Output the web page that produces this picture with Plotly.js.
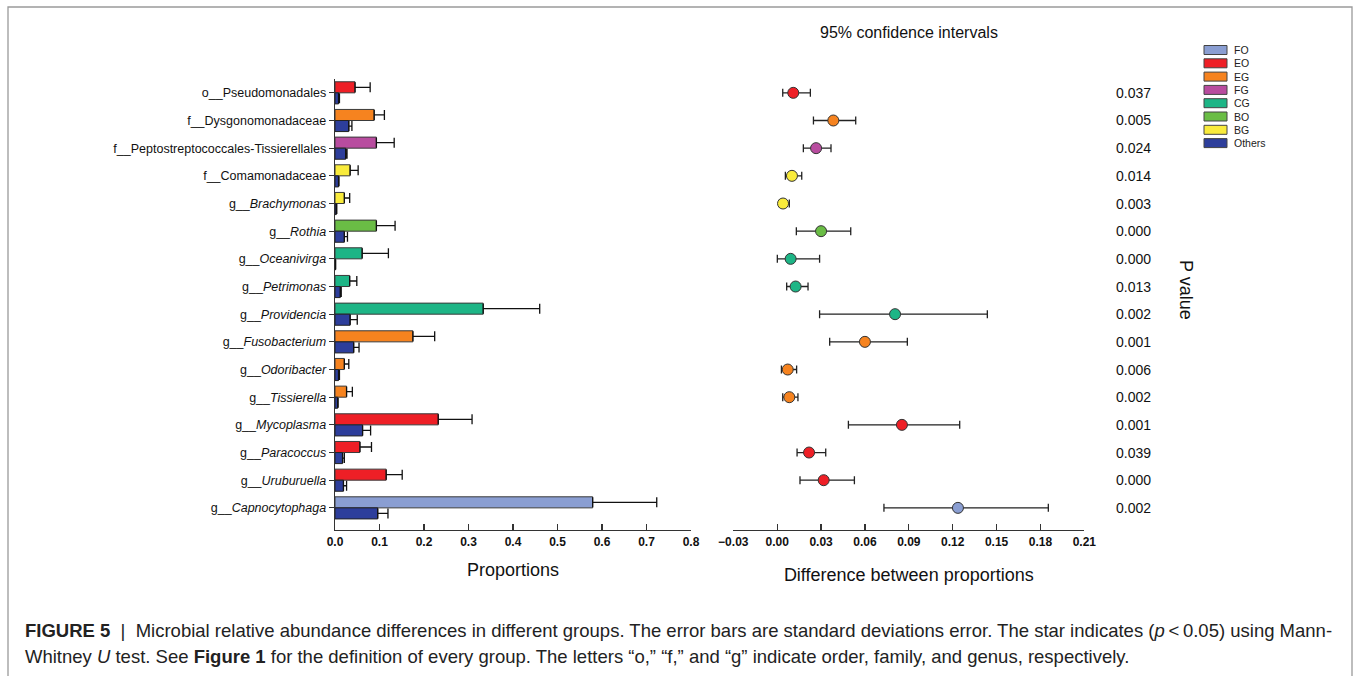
<!DOCTYPE html>
<html>
<head>
<meta charset="utf-8">
<script src="https://cdn.plot.ly/plotly-3.0.1.min.js"></script>
<style>html,body{margin:0;padding:0;background:#fff;}#chart{width:1356px;height:676px;}</style>
</head>
<body>
<div id="chart"></div>
<script>
// ---- data ----
var taxa = ["Pseudomonadales","Dysgonomonadaceae","Peptostreptococcales-Tissierellales","Comamonadaceae","Brachymonas","Rothia","Oceanivirga","Petrimonas","Providencia","Fusobacterium","Odoribacter","Tissierella","Mycoplasma","Paracoccus","Uruburuella","Capnocytophaga"];
var ranks = ["o","f","f","f","g","g","g","g","g","g","g","g","g","g","g","g"];
var groupOf = ["EO","EG","FG","BG","BG","BO","CG","CG","CG","EG","EG","EG","EO","EO","EO","FO"];
var groupMean = [0.045,0.088,0.093,0.034,0.021,0.093,0.061,0.033,0.333,0.175,0.021,0.026,0.232,0.056,0.115,0.579];
var groupSD   = [0.034,0.023,0.040,0.018,0.012,0.042,0.059,0.016,0.127,0.049,0.010,0.013,0.076,0.026,0.036,0.144];
var othersMean = [0.008,0.031,0.024,0.008,0.003,0.021,0.001,0.012,0.034,0.042,0.008,0.006,0.062,0.017,0.019,0.096];
var othersSD   = [0.002,0.007,0.003,0.001,0.001,0.007,0.0005,0.002,0.016,0.012,0.002,0.001,0.018,0.004,0.007,0.023];
var diffMean = [0.0110,0.0384,0.0266,0.0101,0.0040,0.0300,0.0092,0.0126,0.0806,0.0600,0.0072,0.0083,0.0853,0.0218,0.0318,0.1236];
var ciLow    = [0.0038,0.0248,0.0179,0.0056,0.0015,0.0131,0.0001,0.0065,0.0290,0.0359,0.0029,0.0038,0.0487,0.0136,0.0156,0.0730];
var ciHigh   = [0.0227,0.0537,0.0368,0.0168,0.0083,0.0503,0.0290,0.0211,0.1437,0.0890,0.0133,0.0142,0.1248,0.0332,0.0528,0.1854];
var pValues = ["0.037","0.005","0.024","0.014","0.003","0.000","0.000","0.013","0.002","0.001","0.006","0.002","0.001","0.039","0.000","0.002"];
var legendGroups = ["FO","EO","EG","FG","CG","BO","BG","Others"];
var groupColors = {FO:"#8A9ED2",EO:"#EE1F26",EG:"#F6831F",FG:"#B84C9F",CG:"#1DB586",BO:"#6ABD45",BG:"#F9EB3B",Others:"#2D3E9B"};
var leftTicks = [0,0.1,0.2,0.3,0.4,0.5,0.6,0.7,0.8];
var rightTicks = [-0.03,0,0.03,0.06,0.09,0.12,0.15,0.18,0.21];

// ---- build ----
var FONT = "Liberation Sans, Arial, Helvetica, sans-serif";
var cats = taxa.map(function(t,i){return ranks[i]+"__"+t;});
var tickText = taxa.map(function(t,i){return ranks[i]==="g" ? "g__<i>"+t+"</i>" : ranks[i]+"__"+t;});
var zeros = taxa.map(function(){return 0;});

var traces = [
  {type:"bar", orientation:"h", x:groupMean, y:cats, xaxis:"x", yaxis:"y", name:"group",
   marker:{color:groupOf.map(function(g){return groupColors[g];}), line:{color:"#3a3a3a", width:1}},
   error_x:{type:"data", symmetric:false, array:groupSD, arrayminus:zeros, color:"#111", thickness:1.3, width:5},
   showlegend:false, hoverinfo:"x+y"},
  {type:"bar", orientation:"h", x:othersMean, y:cats, xaxis:"x", yaxis:"y", name:"Others",
   marker:{color:groupColors.Others, line:{color:"#222", width:1}},
   error_x:{type:"data", symmetric:false, array:othersSD, arrayminus:zeros, color:"#111", thickness:1.3, width:5},
   showlegend:false, hoverinfo:"x+y"},
  {type:"scatter", mode:"markers", x:diffMean, y:cats, xaxis:"x2", yaxis:"y2",
   marker:{size:11, color:groupOf.map(function(g){return groupColors[g];}), line:{color:"#333", width:1}},
   error_x:{type:"data", symmetric:false,
            array:diffMean.map(function(d,i){return ciHigh[i]-d;}),
            arrayminus:diffMean.map(function(d,i){return d-ciLow[i];}),
            color:"#222", thickness:1.3, width:4},
   showlegend:false, hoverinfo:"x+y"}
];

var yDom = [1-530/676, 1-79/676];
var annotations = [];
var shapes = [];

// p values
pValues.forEach(function(p,i){
  annotations.push({xref:"paper", yref:"y2", x:1114/1356, y:cats[i], xanchor:"left", yanchor:"middle",
    text:p, showarrow:false, font:{family:FONT, size:14, color:"#111"}});
});
annotations.push({xref:"paper", yref:"paper", x:1186/1356, y:1-290/676, text:"P value", textangle:90,
  showarrow:false, xanchor:"center", yanchor:"middle", font:{family:FONT, size:18, color:"#111"}});
annotations.push({xref:"paper", yref:"paper", x:909/1356, y:1-33/676, text:"95% confidence intervals",
  showarrow:false, xanchor:"center", yanchor:"middle", font:{family:FONT, size:16, color:"#111"}});

// custom legend
legendGroups.forEach(function(g,i){
  var yc = 50 + i*13.3;
  shapes.push({type:"rect", xref:"paper", yref:"paper", x0:1204/1356, x1:1227/1356,
    y0:1-(yc+4.5)/676, y1:1-(yc-4.5)/676, fillcolor:groupColors[g], line:{color:"#444", width:1}});
  annotations.push({xref:"paper", yref:"paper", x:1232/1356, y:1-yc/676, text:g, showarrow:false,
    xanchor:"left", yanchor:"middle", font:{family:FONT, size:10.5, color:"#222"}});
});

// frame
shapes.push({type:"rect", xref:"paper", yref:"paper", x0:8/1356, x1:1352/1356, y0:-0.02, y1:1-7/676,
  line:{color:"#9a9a9a", width:1.3}, fillcolor:"rgba(0,0,0,0)", layer:"below"});

// caption
annotations.push({xref:"paper", yref:"paper", x:23/1356, y:1-630/676, xanchor:"left", yanchor:"middle", showarrow:false,
  align:"left", font:{family:FONT, size:18.5, color:"#222"},
  text:"<b>FIGURE 5</b>  |  Microbial relative abundance differences in different groups. The error bars are standard deviations error. The star indicates (<i>p</i>\u2009<\u20090.05) using Mann-"});
annotations.push({xref:"paper", yref:"paper", x:23/1356, y:1-656/676, xanchor:"left", yanchor:"middle", showarrow:false,
  align:"left", font:{family:FONT, size:18.5, color:"#222"},
  text:"Whitney <i>U</i> test. See <b>Figure 1</b> for the definition of every group. The letters \u201co,\u201d \u201cf,\u201d and \u201cg\u201d indicate order, family, and genus, respectively."});

var layout = {
  width:1356, height:676, margin:{l:0,r:0,t:0,b:0}, paper_bgcolor:"#fff", plot_bgcolor:"rgba(0,0,0,0)",
  barmode:"group", bargap:0.2, bargroupgap:0, showlegend:false,
  font:{family:FONT, color:"#111"},
  xaxis:{domain:[335/1356, 691/1356], range:[0,0.8], tickvals:leftTicks, tickformat:".1f",
    showline:true, linecolor:"#333", linewidth:1.3, ticks:"inside", ticklen:6, tickcolor:"#333", tickwidth:1.2,
    showgrid:false, zeroline:false, anchor:"y",
    tickfont:{family:FONT, size:12, color:"#111", weight:"bold"},
    title:{text:"Proportions", font:{family:FONT, size:18, color:"#111"}, standoff:15}},
  yaxis:{domain:yDom, type:"category", categoryarray:cats, range:[15.8,-0.5], tickvals:cats, ticktext:tickText,
    showline:true, linecolor:"#333", linewidth:1.3, ticks:"outside", ticklen:5, tickcolor:"#333",
    showgrid:false, zeroline:false, anchor:"x",
    tickfont:{family:FONT, size:12.5, color:"#111"}},
  xaxis2:{domain:[733.3/1356, 1084.3/1356], range:[-0.03,0.21], tickvals:rightTicks, tickformat:".2f",
    showline:true, linecolor:"#333", linewidth:1.3, ticks:"inside", ticklen:6, tickcolor:"#333", tickwidth:1.2,
    showgrid:false, zeroline:false, anchor:"y2",
    tickfont:{family:FONT, size:12, color:"#111", weight:"bold"},
    title:{text:"Difference between proportions", font:{family:FONT, size:18, color:"#111"}, standoff:20}},
  yaxis2:{domain:yDom, type:"category", categoryarray:cats, range:[15.8,-0.5], showticklabels:false,
    showline:false, ticks:"", showgrid:false, zeroline:false, anchor:"x2"},
  annotations:annotations, shapes:shapes
};

Plotly.newPlot("chart", traces, layout, {displayModeBar:false, staticPlot:true});
</script>
</body>
</html>
